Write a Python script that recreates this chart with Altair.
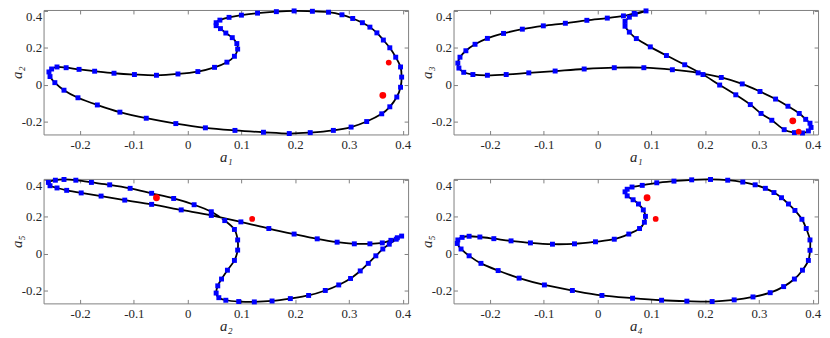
import altair as alt
import pandas as pd

# ---- data (marker positions along each closed curve) ----
p1_x = [0.071, 0.061, 0.053, 0.053, 0.060, 0.077, 0.100, 0.130, 0.165, 0.198, 0.232, 0.262, 0.287, 0.307,
        0.325, 0.339, 0.352, 0.364, 0.376, 0.387, 0.396, 0.398, 0.396, 0.389, 0.376, 0.361, 0.333, 0.304,
        0.271, 0.228, 0.189, 0.141, 0.088, 0.033, -0.022, -0.077, -0.126, -0.168, -0.204, -0.230, -0.247,
        -0.256, -0.258, -0.253, -0.243, -0.226, -0.202, -0.173, -0.137, -0.099, -0.058, -0.018, 0.019,
        0.050, 0.073, 0.087, 0.093, 0.0915, 0.083]
p1_y = [0.280, 0.304, 0.320, 0.336, 0.350, 0.365, 0.377, 0.388, 0.396, 0.400, 0.398, 0.393, 0.379, 0.359,
        0.336, 0.312, 0.281, 0.242, 0.200, 0.149, 0.096, 0.041, -0.014, -0.067, -0.120, -0.158, -0.200,
        -0.230, -0.248, -0.260, -0.265, -0.258, -0.248, -0.234, -0.211, -0.182, -0.149, -0.110, -0.071,
        -0.030, 0.011, 0.044, 0.069, 0.085, 0.096, 0.092, 0.083, 0.073, 0.062, 0.055, 0.051, 0.058, 0.071,
        0.094, 0.122, 0.154, 0.193, 0.223, 0.255]

p2_x = [0.051, 0.051, 0.059, 0.072, 0.098, 0.128, 0.162, 0.196, 0.227, 0.257, 0.284, 0.304, 0.324, 0.347,
        0.366, 0.381, 0.392, 0.397, 0.395, 0.387, 0.375, 0.354, 0.331, 0.302, 0.269, 0.230, 0.187, 0.139,
        0.086, 0.031, -0.025, -0.079, -0.128, -0.170, -0.205, -0.232, -0.249, -0.258, -0.260, -0.256,
        -0.245, -0.228, -0.205, -0.175, -0.140, -0.101, -0.060, -0.020, 0.018, 0.048, 0.068, 0.090,
        0.070, 0.059]
p2_y = [0.343, 0.317, 0.285, 0.250, 0.205, 0.158, 0.108, 0.055, -0.002, -0.055, -0.108, -0.156, -0.193,
        -0.244, -0.260, -0.262, -0.251, -0.232, -0.209, -0.188, -0.156, -0.117, -0.078, -0.037, 0.004,
        0.039, 0.064, 0.081, 0.092, 0.092, 0.085, 0.074, 0.064, 0.055, 0.051, 0.055, 0.067, 0.090, 0.117,
        0.149, 0.184, 0.219, 0.251, 0.278, 0.301, 0.319, 0.333, 0.349, 0.361, 0.373, 0.386, 0.400, 0.382,
        0.366]

p3_x = [-0.259, -0.246, -0.230, -0.208, -0.179, -0.145, -0.107, -0.067, -0.026, 0.012, 0.044, 0.069, 0.087,
        0.093, 0.093, 0.087, 0.074, 0.063, 0.056, 0.053, 0.058, 0.071, 0.095, 0.124, 0.157, 0.191, 0.225,
        0.256, 0.281, 0.303, 0.321, 0.336, 0.350, 0.363, 0.375, 0.388, 0.398, 0.390, 0.378, 0.362, 0.339,
        0.310, 0.278, 0.241, 0.198, 0.151, 0.099, 0.044, -0.012, -0.067, -0.117, -0.161, -0.198, -0.225,
        -0.243, -0.256]
p3_y = [0.386, 0.398, 0.402, 0.398, 0.386, 0.373, 0.354, 0.327, 0.299, 0.265, 0.227, 0.179, 0.131, 0.074,
        0.019, -0.037, -0.090, -0.138, -0.175, -0.214, -0.239, -0.253, -0.260, -0.262, -0.257, -0.244,
        -0.227, -0.200, -0.170, -0.135, -0.094, -0.053, -0.012, 0.025, 0.051, 0.078, 0.095, 0.086, 0.072,
        0.058, 0.053, 0.053, 0.062, 0.080, 0.106, 0.136, 0.172, 0.207, 0.237, 0.267, 0.290, 0.312, 0.329,
        0.343, 0.356, 0.368]

p4_x = [0.089, 0.085, 0.076, 0.066, 0.055, 0.051, 0.055, 0.064, 0.083, 0.110, 0.142, 0.175, 0.210, 0.242,
        0.270, 0.293, 0.312, 0.328, 0.342, 0.355, 0.367, 0.380, 0.388, 0.395, 0.395, 0.392, 0.381, 0.366,
        0.346, 0.321, 0.289, 0.254, 0.213, 0.166, 0.119, 0.065, 0.008, -0.047, -0.099, -0.146, -0.185,
        -0.217, -0.239, -0.254, -0.261, -0.260, -0.252, -0.239, -0.219, -0.193, -0.161, -0.125, -0.084,
        -0.043, -0.004, 0.031, 0.058, 0.078, 0.087]
p4_y = [0.202, 0.237, 0.269, 0.292, 0.313, 0.335, 0.349, 0.361, 0.370, 0.384, 0.393, 0.400, 0.402, 0.398,
        0.388, 0.373, 0.354, 0.331, 0.303, 0.269, 0.234, 0.186, 0.136, 0.074, 0.018, -0.037, -0.090,
        -0.138, -0.179, -0.212, -0.235, -0.251, -0.260, -0.258, -0.253, -0.242, -0.227, -0.200, -0.170,
        -0.133, -0.092, -0.053, -0.012, 0.025, 0.055, 0.074, 0.088, 0.094, 0.090, 0.081, 0.069, 0.058,
        0.051, 0.053, 0.064, 0.078, 0.106, 0.136, 0.170]

# red points (P, Q) in each projection
red_a1 = [0.374, 0.363]
red_a2 = [0.120, -0.058]
red_a3 = [-0.255, -0.196]
red_a4 = [0.108, 0.092]
red_a5 = [0.188, 0.303]
red_size = [34, 48]

x_ticks = [-0.2, -0.1, 0, 0.1, 0.2, 0.3, 0.4]
y_ticks = [-0.2, 0, 0.2, 0.4]

FONT = "Liberation Serif"
FRAME = "#7f7f7f"
XDOM = [-0.268, 0.41]
YDOM = [-0.27, 0.405]
W, H = 369, 126


def panel(xs, ys, rx, ry, xt, yt):
    curve = pd.DataFrame({"x": xs, "y": ys, "i": list(range(len(xs)))})
    red = pd.DataFrame({"x": rx, "y": ry, "s": red_size})
    xsc = alt.Scale(domain=XDOM, nice=False, zero=False)
    ysc = alt.Scale(domain=YDOM, nice=False, zero=False)
    xax = alt.Axis(title=xt, values=x_ticks, labelExpr="'' + datum.value", offset=-4, tickSize=4,
                   domain=False, grid=False, tickColor=FRAME, labelPadding=4, titlePadding=-2,
                   labelFlush=False)
    yax = alt.Axis(title=yt, values=y_ticks, labelExpr="'' + datum.value", offset=-4, tickSize=4,
                   domain=False, grid=False, tickColor=FRAME, labelPadding=2, titlePadding=-3,
                   labelFlush=3)
    xax2 = alt.Axis(orient="top", title=None, values=x_ticks, labels=False, offset=-4, tickSize=4,
                    domain=False, grid=False, tickColor=FRAME)
    yax2 = alt.Axis(orient="right", title=None, values=y_ticks, labels=False, offset=-4, tickSize=4,
                    domain=False, grid=False, tickColor=FRAME)
    line = alt.Chart(curve).mark_line(color="black", strokeWidth=1.8, interpolate="cardinal-closed").encode(
        x=alt.X("x:Q", scale=xsc, axis=xax),
        y=alt.Y("y:Q", scale=ysc, axis=yax),
        order="i:Q",
    )
    sq = alt.Chart(curve).mark_square(color="#0000ff", size=25, opacity=1).encode(
        x=alt.X("x:Q", scale=xsc, axis=None),
        y=alt.Y("y:Q", scale=ysc, axis=None),
    )
    dots = alt.Chart(red).mark_circle(color="#ff0000", opacity=1).encode(
        x=alt.X("x:Q", scale=xsc, axis=xax2),
        y=alt.Y("y:Q", scale=ysc, axis=yax2),
        size=alt.Size("s:Q", scale=None, legend=None),
    )
    return alt.layer(line, sq, dots).resolve_axis(x="independent", y="independent").properties(
        width=W, height=H)


c1 = panel(p1_x, p1_y, red_a1, red_a2, "a₁", "a₂")
c2 = panel(p2_x, p2_y, red_a1, red_a3, "a₁", "a₃")
c3 = panel(p3_x, p3_y, red_a2, red_a5, "a₂", "a₅")
c4 = panel(p4_x, p4_y, red_a4, red_a5, "a₄", "a₅")

chart = alt.concat(c1, c2, c3, c4, columns=2, spacing={"row": 45, "column": 46}).properties(
    bounds="flush", padding={"left": 0, "top": -4, "right": 0, "bottom": 0}
).configure_view(stroke=FRAME, strokeWidth=1).configure_axis(
    labelFont=FONT, labelFontSize=13, labelColor="#262626",
    titleFont=FONT, titleFontSize=15, titleFontStyle="italic", titleFontWeight="normal", titleColor="#262626",
)

chart.save("out.html", embed_options={"renderer": "svg", "actions": False})
